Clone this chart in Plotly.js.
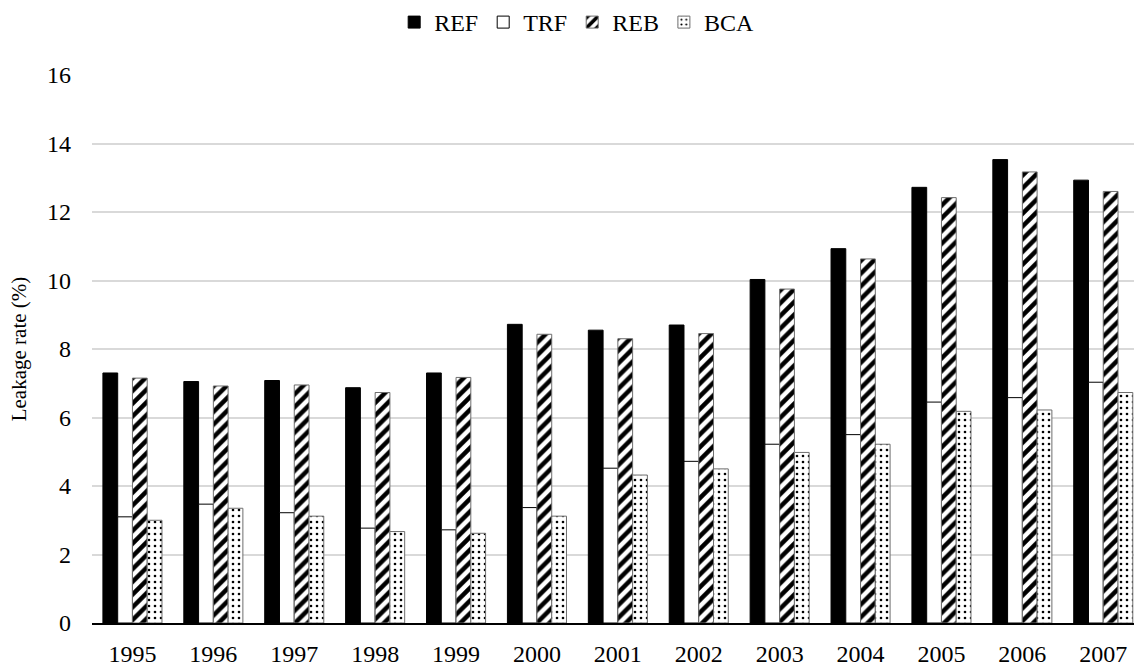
<!DOCTYPE html>
<html>
<head>
<meta charset="utf-8">
<script src="https://cdn.plot.ly/plotly-3.0.1.min.js"></script>
<style>html,body{margin:0;padding:0;background:#fff;overflow:hidden}</style>
</head>
<body>
<div id="chart" style="width:1134px;height:669px"></div>
<script>
const years = ["1995","1996","1997","1998","1999","2000","2001","2002","2003","2004","2005","2006","2007"];
const REF = [7.30, 7.05, 7.08, 6.87, 7.30, 8.72, 8.55, 8.70, 10.03, 10.93, 12.72, 13.53, 12.93];
const TRF = [3.10, 3.47, 3.22, 2.77, 2.72, 3.37, 4.52, 4.72, 5.22, 5.50, 6.45, 6.58, 7.03];
const REB = [7.15, 6.92, 6.95, 6.73, 7.17, 8.43, 8.30, 8.45, 9.75, 10.63, 12.42, 13.17, 12.60];
const BCA = [3.00, 3.35, 3.12, 2.67, 2.62, 3.12, 4.32, 4.50, 4.98, 5.22, 6.18, 6.22, 6.73];
const yTicks = [0, 2, 4, 6, 8, 10, 12, 14, 16];

const font = "'Liberation Serif', 'Times New Roman', serif";
const traces = [
  {type:"bar", name:"REF", x:years, y:REF,
   marker:{color:"#000000", line:{color:"#000000", width:1}}},
  {type:"bar", name:"TRF", x:years, y:TRF,
   marker:{color:"#ffffff", line:{color:"#000000", width:1}}},
  {type:"bar", name:"REB", x:years, y:REB,
   marker:{color:"#ffffff", line:{color:"#6e6e6e", width:1},
     pattern:{shape:"/", fgcolor:"#000000", bgcolor:"#ffffff", size:9, solidity:0.5}}},
  {type:"bar", name:"BCA", x:years, y:BCA,
   marker:{color:"#ffffff", line:{color:"#6e6e6e", width:1},
     pattern:{shape:".", fgcolor:"#000000", bgcolor:"#ffffff", size:6, solidity:0.15}}}
];

const layout = {
  width:1134, height:669,
  margin:{l:92, r:0, t:75, b:46},
  paper_bgcolor:"#ffffff", plot_bgcolor:"#ffffff",
  font:{family:font, size:22, color:"#000000"},
  barmode:"group", bargap:0.27, bargroupgap:0,
  showlegend:true,
  legend:{orientation:"h", x:0.29, xanchor:"left", y:1, yref:"container", yanchor:"top",
    font:{family:font, size:24, color:"#000"}, itemwidth:30, tracegroupgap:0},
  xaxis:{type:"category", range:[-0.5, 12.38], showgrid:false, showline:true,
    linecolor:"#000000", linewidth:2, ticks:"", tickfont:{family:font, size:24},
    ticklabelstandoff:8, zeroline:false},
  yaxis:{range:[0,16], tickvals:yTicks, showgrid:true, gridcolor:"#d9d9d9", gridwidth:2,
    zeroline:false, showline:false, ticks:"", tickfont:{family:font, size:24},
    ticklabelstandoff:20,
    title:{text:"Leakage rate (%)", font:{family:font, size:21}, standoff:14}}
};
Plotly.newPlot("chart", traces, layout, {displayModeBar:false, staticPlot:true});
</script>
</body>
</html>
